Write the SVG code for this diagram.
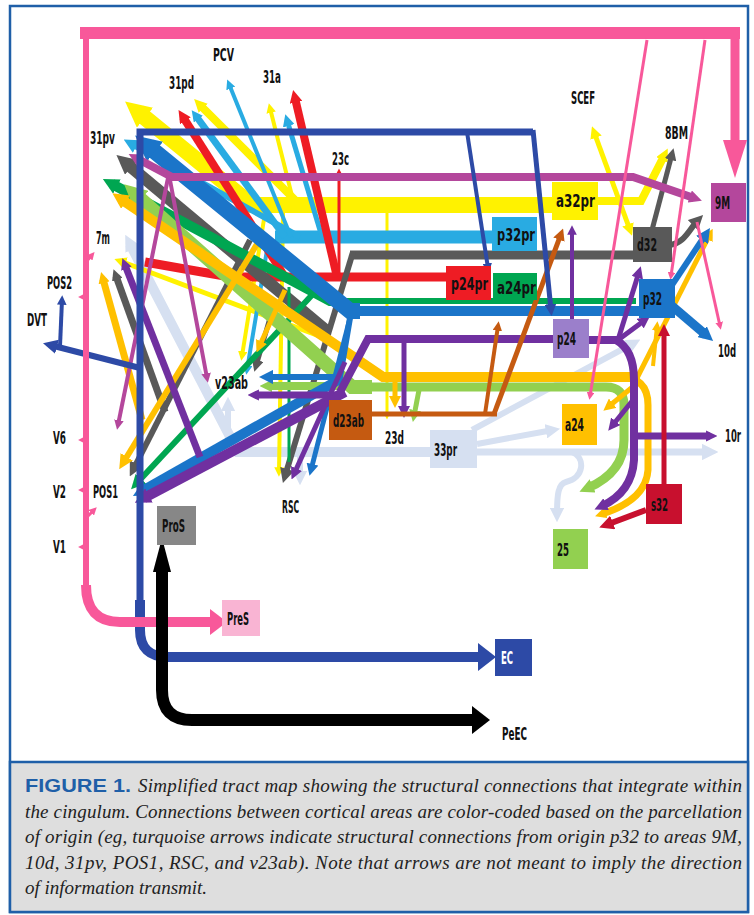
<svg xmlns="http://www.w3.org/2000/svg" width="754" height="915" viewBox="0 0 754 915">
<style>
.c{fill:none;stroke-linecap:butt;stroke-linejoin:miter}
.y{stroke:#fff200}.sb{stroke:#29abe2}.r{stroke:#ee1c24}.g{stroke:#595959}.gr{stroke:#00a651}.lg{stroke:#92d050}.o{stroke:#ffc000}.b{stroke:#1b75c9}.p{stroke:#7030a0}.m{stroke:#b4479c}.br{stroke:#c55a11}.n{stroke:#2d4aa6}.pk{stroke:#f8589a}.pb{stroke:#d6e0f1}.dr{stroke:#c8102e}.k{stroke:#000}
.lbl{font-family:'Liberation Sans Narrow','DejaVu Sans Condensed','Liberation Sans',sans-serif;font-weight:bold;font-size:17px;fill:#111}
.cap{font-family:'Liberation Serif',serif;font-style:italic;font-size:19px;fill:#222}
.fig{font-family:'Liberation Sans',sans-serif;font-weight:bold;font-style:normal;font-size:19px;fill:#1f5fa8}
</style>
<defs>
<marker id="tY" viewBox="0 0 10 10" refX="5" refY="5" markerWidth="2.4" markerHeight="2.4" orient="auto-start-reverse"><path d="M0,0L10,5L0,10z" fill="#fff200"/></marker>
<marker id="kY" viewBox="0 0 10 10" refX="3.5" refY="5" markerWidth="1.6" markerHeight="1.6" orient="auto-start-reverse"><path d="M0,0L10,5L0,10z" fill="#fff200"/></marker>
<marker id="tSB" viewBox="0 0 10 10" refX="5" refY="5" markerWidth="2.4" markerHeight="2.4" orient="auto"><path d="M0,0L10,5L0,10z" fill="#29abe2"/></marker>
<marker id="kSB" viewBox="0 0 10 10" refX="3.5" refY="5" markerWidth="1.6" markerHeight="1.6" orient="auto"><path d="M0,0L10,5L0,10z" fill="#29abe2"/></marker>
<marker id="tR" viewBox="0 0 10 10" refX="5" refY="5" markerWidth="2.4" markerHeight="2.4" orient="auto"><path d="M0,0L10,5L0,10z" fill="#ee1c24"/></marker>
<marker id="kR" viewBox="0 0 10 10" refX="3.5" refY="5" markerWidth="1.6" markerHeight="1.6" orient="auto"><path d="M0,0L10,5L0,10z" fill="#ee1c24"/></marker>
<marker id="tG" viewBox="0 0 10 10" refX="5" refY="5" markerWidth="2.4" markerHeight="2.4" orient="auto"><path d="M0,0L10,5L0,10z" fill="#595959"/></marker>
<marker id="kG" viewBox="0 0 10 10" refX="3.5" refY="5" markerWidth="1.6" markerHeight="1.6" orient="auto"><path d="M0,0L10,5L0,10z" fill="#595959"/></marker>
<marker id="tGR" viewBox="0 0 10 10" refX="5" refY="5" markerWidth="2.4" markerHeight="2.4" orient="auto"><path d="M0,0L10,5L0,10z" fill="#00a651"/></marker>
<marker id="kGR" viewBox="0 0 10 10" refX="3.5" refY="5" markerWidth="1.6" markerHeight="1.6" orient="auto"><path d="M0,0L10,5L0,10z" fill="#00a651"/></marker>
<marker id="tLG" viewBox="0 0 10 10" refX="5" refY="5" markerWidth="2.4" markerHeight="2.4" orient="auto"><path d="M0,0L10,5L0,10z" fill="#92d050"/></marker>
<marker id="kLG" viewBox="0 0 10 10" refX="3.5" refY="5" markerWidth="1.6" markerHeight="1.6" orient="auto"><path d="M0,0L10,5L0,10z" fill="#92d050"/></marker>
<marker id="tO" viewBox="0 0 10 10" refX="5" refY="5" markerWidth="2.4" markerHeight="2.4" orient="auto"><path d="M0,0L10,5L0,10z" fill="#ffc000"/></marker>
<marker id="kO" viewBox="0 0 10 10" refX="3.5" refY="5" markerWidth="1.6" markerHeight="1.6" orient="auto"><path d="M0,0L10,5L0,10z" fill="#ffc000"/></marker>
<marker id="tB" viewBox="0 0 10 10" refX="5" refY="5" markerWidth="2.4" markerHeight="2.4" orient="auto"><path d="M0,0L10,5L0,10z" fill="#1b75c9"/></marker>
<marker id="kB" viewBox="0 0 10 10" refX="3.5" refY="5" markerWidth="1.6" markerHeight="1.6" orient="auto"><path d="M0,0L10,5L0,10z" fill="#1b75c9"/></marker>
<marker id="tP" viewBox="0 0 10 10" refX="5" refY="5" markerWidth="2.4" markerHeight="2.4" orient="auto"><path d="M0,0L10,5L0,10z" fill="#7030a0"/></marker>
<marker id="kP" viewBox="0 0 10 10" refX="3.5" refY="5" markerWidth="1.6" markerHeight="1.6" orient="auto"><path d="M0,0L10,5L0,10z" fill="#7030a0"/></marker>
<marker id="tM" viewBox="0 0 10 10" refX="5" refY="5" markerWidth="2.4" markerHeight="2.4" orient="auto"><path d="M0,0L10,5L0,10z" fill="#b4479c"/></marker>
<marker id="kM" viewBox="0 0 10 10" refX="3.5" refY="5" markerWidth="1.6" markerHeight="1.6" orient="auto"><path d="M0,0L10,5L0,10z" fill="#b4479c"/></marker>
<marker id="tBR" viewBox="0 0 10 10" refX="5" refY="5" markerWidth="2.4" markerHeight="2.4" orient="auto"><path d="M0,0L10,5L0,10z" fill="#c55a11"/></marker>
<marker id="tN" viewBox="0 0 10 10" refX="5" refY="5" markerWidth="2.4" markerHeight="2.4" orient="auto"><path d="M0,0L10,5L0,10z" fill="#2d4aa6"/></marker>
<marker id="tPK" viewBox="0 0 10 10" refX="5" refY="5" markerWidth="2.6" markerHeight="2.6" orient="auto"><path d="M0,0L10,5L0,10z" fill="#f8589a"/></marker>
<marker id="tPB" viewBox="0 0 10 10" refX="5" refY="5" markerWidth="2.4" markerHeight="2.4" orient="auto"><path d="M0,0L10,5L0,10z" fill="#d6e0f1"/></marker>
<marker id="kPB" viewBox="0 0 10 10" refX="3.5" refY="5" markerWidth="1.6" markerHeight="1.6" orient="auto"><path d="M0,0L10,5L0,10z" fill="#d6e0f1"/></marker>
<marker id="tDR" viewBox="0 0 10 10" refX="5" refY="5" markerWidth="2.4" markerHeight="2.4" orient="auto"><path d="M0,0L10,5L0,10z" fill="#c8102e"/></marker>
</defs>
<rect x="10" y="6" width="738" height="906" fill="#fff" stroke="#1f5fa8" stroke-width="2.5"/>
<g id="connectors">
<!-- pale blue (33pr) -->
<path class="c pb" stroke-width="10" d="M430 452H238L130 244" marker-end="url(#kPB)"/>
<path class="c pb" stroke-width="7" d="M477 452H710" marker-end="url(#tPB)"/>
<path class="c pb" stroke-width="6" d="M477 444L553 430" marker-end="url(#tPB)"/>
<path class="c pb" stroke-width="6" d="M472 430L634 343" marker-end="url(#tPB)"/>
<path class="c pb" stroke-width="6" d="M572 452C586 458 584 478 566 482C558 484 557 495 557 515" marker-end="url(#tPB)"/>
<path class="c pb" stroke-width="6" d="M300 452V478" marker-end="url(#tPB)"/>
<path class="c pb" stroke-width="6" d="M228 452V404" marker-end="url(#tPB)"/>
<!-- yellow (a32pr) -->
<path class="c y" stroke-width="16" d="M552 205H252L138 112" marker-end="url(#kY)"/>
<path class="c y" stroke-width="8" d="M300 205L200 105" marker-end="url(#kY)"/>
<path class="c y" stroke-width="4" d="M293 200L270 108" marker-end="url(#tY)"/>
<path class="c y" stroke-width="3" d="M387 213V416" marker-end="url(#tY)"/>
<path class="c y" stroke-width="4" d="M283 213L279 472" marker-end="url(#tY)"/>
<path class="c y" stroke-width="4" d="M265 213L242 356" marker-end="url(#tY)"/>
<path class="c y" stroke-width="5" d="M330 340L120 261" marker-end="url(#tY)"/>
<path class="c y" stroke-width="8" d="M597 201H641L664 156" marker-end="url(#kY)"/>
<path class="c y" stroke-width="5" d="M594 132L630 230" marker-start="url(#tY)" marker-end="url(#tY)"/>
<!-- sky blue (p32pr) -->
<path class="c sb" stroke-width="13" d="M492 237H275"/>
<path class="c sb" stroke-width="6" d="M300 237L130 143" marker-end="url(#tSB)"/>
<path class="c sb" stroke-width="7" d="M285 237L196 116" marker-end="url(#kSB)"/>
<path class="c sb" stroke-width="4" d="M291 237L229 84" marker-end="url(#tSB)"/>
<path class="c sb" stroke-width="5" d="M322 237L287 120" marker-end="url(#tSB)"/>
<path class="c sb" stroke-width="4" d="M268 244L247 370" marker-end="url(#tSB)"/>
<!-- red (p24pr) -->
<path class="c r" stroke-width="9" d="M446 277H230L145 262"/>
<path class="c r" stroke-width="8" d="M285 277L183 117" marker-end="url(#kR)"/>
<path class="c r" stroke-width="8" d="M337 277L295 98" marker-end="url(#kR)"/>
<path class="c r" stroke-width="3" d="M339 277V172" marker-end="url(#tR)"/>
<!-- gray (d32) -->
<path class="c g" stroke-width="9" d="M635 255H350"/>
<path class="c g" stroke-width="6" d="M353 252L285 476" marker-end="url(#tG)"/>
<path class="c g" stroke-width="12" d="M328 332L126 163" marker-end="url(#kG)"/>
<path class="c g" stroke-width="6" d="M250 240L133 470" marker-end="url(#tG)"/>
<path class="c g" stroke-width="7" d="M165 412L116 276" marker-end="url(#kG)"/>
<path class="c g" stroke-width="5" d="M270 318L256 366" marker-end="url(#tG)"/>
<path class="c g" stroke-width="5" d="M652 230L672 154" marker-end="url(#tG)"/>
<path class="c g" stroke-width="6" d="M668 245C684 245 690 228 698 220" marker-end="url(#tG)"/>
<!-- green (a24pr) -->
<path class="c gr" stroke-width="6" d="M636 301H330"/>
<path class="c gr" stroke-width="10" d="M338 301H330L112 184" marker-end="url(#kGR)"/>
<path class="c gr" stroke-width="6" d="M312 295L136 484" marker-end="url(#tGR)"/>
<path class="c gr" stroke-width="3" d="M289 287V462"/>
<!-- light green (25) -->
<path class="c lg" stroke-width="9" d="M352 387H606Q624 387 624 405V440Q624 472 588 488" marker-end="url(#kLG)"/>
<path class="c lg" stroke-width="14" d="M372 387H352L135 194" marker-end="url(#kLG)"/>
<path class="c lg" stroke-width="8" d="M345 386H268" marker-end="url(#kLG)"/>
<path class="c lg" stroke-width="5" d="M419 390L414 416" marker-end="url(#tLG)"/>
<!-- orange (a24) -->
<path class="c o" stroke-width="10" d="M640 377H383L121 199" marker-end="url(#kO)"/>
<path class="c o" stroke-width="7" d="M620 377Q648 377 648 405V470Q646 500 602 514" marker-end="url(#kO)"/>
<path class="c o" stroke-width="5" d="M640 381L608 407" marker-end="url(#tO)"/>
<path class="c o" stroke-width="4" d="M653 366L657 326" marker-end="url(#tO)"/>
<path class="c o" stroke-width="5" d="M637 378L710 234" marker-end="url(#tO)"/>
<path class="c o" stroke-width="5" d="M395 382V402" marker-end="url(#tO)"/>
<path class="c o" stroke-width="6" d="M262 236L123 463" marker-end="url(#tO)"/>
<path class="c o" stroke-width="7" d="M142 420L103 279" marker-end="url(#kO)"/>
<path class="c o" stroke-width="5" d="M285 290L259 347" marker-end="url(#tO)"/>
<!-- blue (p32) -->
<path class="c b" stroke-width="10" d="M640 311H350"/>
<path class="c b" stroke-width="16" d="M360 311H350L148 146" marker-end="url(#kB)"/>
<path class="c b" stroke-width="5" d="M350 318L311 470" marker-end="url(#tB)"/>
<path class="c b" stroke-width="6" d="M350 318L340 377H266" marker-end="url(#tB)"/>
<path class="c b" stroke-width="10" d="M342 378L142 491" marker-end="url(#kB)"/>
<path class="c b" stroke-width="9" d="M672 306L706 335" marker-end="url(#kB)"/>
<path class="c b" stroke-width="6" d="M672 285L706 234" marker-end="url(#tB)"/>
<!-- purple (p24) -->
<path class="c p" stroke-width="8" d="M553 339H368L340 392"/>
<path class="c p" stroke-width="10" d="M345 392L144 498" marker-end="url(#kP)"/>
<path class="c p" stroke-width="8" d="M589 340H620"/>
<path class="c p" stroke-width="5" d="M618 340L639 272" marker-end="url(#tP)"/>
<path class="c p" stroke-width="5" d="M618 340L645 320" marker-end="url(#tP)"/>
<path class="c p" stroke-width="4" d="M572 319V230" marker-end="url(#tP)"/>
<path class="c p" stroke-width="5" d="M404 339V412" marker-end="url(#tP)"/>
<path class="c p" stroke-width="8" d="M616 340Q634 350 634 380V460Q632 492 602 506" marker-end="url(#kP)"/>
<path class="c p" stroke-width="5" d="M633 400L612 426" marker-end="url(#tP)"/>
<path class="c p" stroke-width="7" d="M634 436H710" marker-end="url(#kP)"/>
<path class="c p" stroke-width="7" d="M338 395H255" marker-end="url(#kP)"/>
<path class="c p" stroke-width="5" d="M345 362L294 474" marker-end="url(#tP)"/>
<path class="c p" stroke-width="7" d="M200 457L125 265" marker-end="url(#kP)"/>
<!-- brown (d23ab) -->
<path class="c br" stroke-width="5" d="M372 414H497"/>
<path class="c br" stroke-width="4" d="M485 414L498 326" marker-end="url(#tBR)"/>
<path class="c br" stroke-width="5" d="M494 414L561 234" marker-end="url(#tBR)"/>
<!-- dark red (s32) -->
<path class="c dr" stroke-width="5" d="M664 484V330" marker-end="url(#tDR)"/>
<path class="c dr" stroke-width="6" d="M646 510L606 525" marker-end="url(#tDR)"/>
<!-- magenta (9M) -->
<path class="c m" stroke-width="8" d="M168 177H633L694 198" marker-end="url(#kM)"/>
<path class="c m" stroke-width="8" d="M172 177L136 158" marker-end="url(#kM)"/>
<path class="c m" stroke-width="4" d="M168 178L118 425" marker-end="url(#tM)"/>
<path class="c m" stroke-width="4" d="M170 180L207 378" marker-end="url(#tM)"/>
<!-- navy (EC) -->
<path class="c n" stroke-width="7" d="M533 132H140V610"/>
<path class="c n" stroke-width="10" d="M140 600V630Q140 657 168 657H480"/>
<polygon points="478,643 478,671 496,657" fill="#2d4aa6"/>
<path class="c n" stroke-width="5" d="M533 130L551 310" marker-end="url(#tN)"/>
<path class="c n" stroke-width="4" d="M467 132L488 268" marker-end="url(#tN)"/>
<path class="c n" stroke-width="6" d="M140 368L50 345" marker-end="url(#tN)"/>
<path class="c n" stroke-width="4" d="M60 346L62 300" marker-end="url(#tN)"/>
<!-- pink (PreS) -->
<path class="c pk" stroke-width="12" d="M80 33H740"/>
<path class="c pk" stroke-width="9" d="M735 33V142"/>
<polygon points="723,140 747,140 735,178" fill="#f8589a"/>
<path class="c pk" stroke-width="6" d="M86 28V590"/>
<path class="c pk" stroke-width="10" d="M86 585Q86 622 120 622H212"/>
<polygon points="210,609 210,635 227,622" fill="#f8589a"/>
<path class="c pk" stroke-width="3" d="M647 40L590 396" marker-end="url(#tPK)"/>
<path class="c pk" stroke-width="3" d="M705 40L671 276" marker-end="url(#tPK)"/>
<path class="c pk" stroke-width="3" d="M697 222L720 326" marker-end="url(#tPK)"/>
<path class="c pk" stroke-width="3" d="M86 297H82" marker-end="url(#tPK)"/>
<path class="c pk" stroke-width="3" d="M86 440H82" marker-end="url(#tPK)"/>
<path class="c pk" stroke-width="3" d="M86 490H82" marker-end="url(#tPK)"/>
<path class="c pk" stroke-width="3" d="M86 547H82" marker-end="url(#tPK)"/>
<path class="c pk" stroke-width="3" d="M86 262L92 255" marker-end="url(#tPK)"/>
<path class="c pk" stroke-width="3" d="M86 518L94 510" marker-end="url(#tPK)"/>
<!-- black (ProS) -->
<path class="c k" stroke-width="12" d="M162 568V690Q162 720 192 720H472"/>
<polygon points="153,572 171,572 162,538" fill="#000"/>
<polygon points="472,706 472,734 490,720" fill="#000"/>
</g>
<g id="a32pr"><rect x="552" y="182" width="46" height="38" fill="#fff200"/><text class="lbl" x="556" y="207" textLength="39" lengthAdjust="spacingAndGlyphs">a32pr</text></g>
<g id="n9M"><rect x="711" y="183" width="35" height="39" fill="#b4479c"/><text class="lbl" x="715" y="209" textLength="15" lengthAdjust="spacingAndGlyphs">9M</text></g>
<g id="d32"><rect x="633" y="227" width="39" height="35" fill="#595959"/><text class="lbl" x="637" y="251" textLength="20" lengthAdjust="spacingAndGlyphs">d32</text></g>
<g id="p32pr"><rect x="492" y="217" width="45" height="34" fill="#29abe2"/><text class="lbl" x="497" y="241" textLength="38" lengthAdjust="spacingAndGlyphs">p32pr</text></g>
<g id="p24pr"><rect x="446" y="266" width="45" height="34" fill="#ee1c24"/><text class="lbl" x="451" y="290" textLength="37" lengthAdjust="spacingAndGlyphs">p24pr</text></g>
<g id="a24pr"><rect x="493" y="273" width="44" height="27" fill="#00a651"/><text class="lbl" x="497" y="294" textLength="39" lengthAdjust="spacingAndGlyphs">a24pr</text></g>
<g id="p32"><rect x="639" y="279" width="36" height="39" fill="#1b75c9"/><text class="lbl" x="643" y="305" textLength="19" lengthAdjust="spacingAndGlyphs">p32</text></g>
<g id="p24"><rect x="553" y="319" width="36" height="39" fill="#9b7fcb"/><text class="lbl" x="557" y="345" textLength="19" lengthAdjust="spacingAndGlyphs">p24</text></g>
<g id="a24"><rect x="562" y="404" width="35" height="41" fill="#ffc000"/><text class="lbl" x="565" y="431" textLength="19" lengthAdjust="spacingAndGlyphs">a24</text></g>
<g id="d23ab"><rect x="329" y="400" width="43" height="40" fill="#c55a11"/><text class="lbl" x="333" y="427" textLength="31" lengthAdjust="spacingAndGlyphs">d23ab</text></g>
<g id="n33pr"><rect x="430" y="430" width="47" height="38" fill="#d6e0f1"/><text class="lbl" x="434" y="456" textLength="23" lengthAdjust="spacingAndGlyphs">33pr</text></g>
<g id="s32"><rect x="646" y="484" width="36" height="40" fill="#c8102e"/><text class="lbl" x="651" y="511" textLength="17" lengthAdjust="spacingAndGlyphs">s32</text></g>
<g id="n25"><rect x="553" y="529" width="35" height="40" fill="#92d050"/><text class="lbl" x="557" y="556" textLength="12" lengthAdjust="spacingAndGlyphs">25</text></g>
<g id="ProS"><rect x="157" y="506" width="39" height="39" fill="#878787"/><text class="lbl" x="162" y="532" textLength="23" lengthAdjust="spacingAndGlyphs">ProS</text></g>
<g id="PreS"><rect x="222" y="600" width="38" height="36" fill="#f9b4d3"/><text class="lbl" x="227" y="625" textLength="22" lengthAdjust="spacingAndGlyphs">PreS</text></g>
<g id="EC"><rect x="495" y="639" width="37" height="37" fill="#2d4aa6"/><text class="lbl" x="501" y="664" textLength="12" lengthAdjust="spacingAndGlyphs" style="fill:#fff">EC</text></g>
<g id="n31pd"><text class="lbl" x="169" y="89" textLength="25" lengthAdjust="spacingAndGlyphs">31pd</text></g>
<g id="PCV"><text class="lbl" x="213" y="61" textLength="21" lengthAdjust="spacingAndGlyphs">PCV</text></g>
<g id="n31a"><text class="lbl" x="263" y="83" textLength="18" lengthAdjust="spacingAndGlyphs">31a</text></g>
<g id="n23c"><text class="lbl" x="332" y="165" textLength="17" lengthAdjust="spacingAndGlyphs">23c</text></g>
<g id="SCEF"><text class="lbl" x="571" y="104" textLength="24" lengthAdjust="spacingAndGlyphs">SCEF</text></g>
<g id="n8BM"><text class="lbl" x="665" y="139" textLength="23" lengthAdjust="spacingAndGlyphs">8BM</text></g>
<g id="n31pv"><text class="lbl" x="90" y="144" textLength="25" lengthAdjust="spacingAndGlyphs">31pv</text></g>
<g id="n7m"><text class="lbl" x="96" y="244" textLength="14" lengthAdjust="spacingAndGlyphs">7m</text></g>
<g id="POS2"><text class="lbl" x="47" y="289" textLength="25" lengthAdjust="spacingAndGlyphs">POS2</text></g>
<g id="DVT"><text class="lbl" x="27" y="326" textLength="20" lengthAdjust="spacingAndGlyphs">DVT</text></g>
<g id="V6"><text class="lbl" x="53" y="444" textLength="13" lengthAdjust="spacingAndGlyphs">V6</text></g>
<g id="V2"><text class="lbl" x="53" y="498" textLength="13" lengthAdjust="spacingAndGlyphs">V2</text></g>
<g id="V1"><text class="lbl" x="53" y="553" textLength="13" lengthAdjust="spacingAndGlyphs">V1</text></g>
<g id="POS1"><text class="lbl" x="93" y="498" textLength="25" lengthAdjust="spacingAndGlyphs">POS1</text></g>
<g id="v23ab"><text class="lbl" x="215" y="389" textLength="33" lengthAdjust="spacingAndGlyphs">v23ab</text></g>
<g id="RSC"><text class="lbl" x="282" y="513" textLength="17" lengthAdjust="spacingAndGlyphs">RSC</text></g>
<g id="n23d"><text class="lbl" x="385" y="444" textLength="19" lengthAdjust="spacingAndGlyphs">23d</text></g>
<g id="n10d"><text class="lbl" x="718" y="357" textLength="18" lengthAdjust="spacingAndGlyphs">10d</text></g>
<g id="n10r"><text class="lbl" x="725" y="442" textLength="16" lengthAdjust="spacingAndGlyphs">10r</text></g>
<g id="PeEC"><text class="lbl" x="502" y="740" textLength="25" lengthAdjust="spacingAndGlyphs">PeEC</text></g>
<g id="caption">
<rect x="10" y="762" width="738" height="150" fill="#dedede" stroke="#1f5fa8" stroke-width="2.5"/>
<text class="fig" x="25" y="792" textLength="106" lengthAdjust="spacingAndGlyphs">FIGURE 1.</text>
<text class="cap" x="138" y="792" textLength="604" lengthAdjust="spacing">Simplified tract map showing the structural connections that integrate within</text>
<text class="cap" x="25" y="818" textLength="717" lengthAdjust="spacing">the cingulum. Connections between cortical areas are color-coded based on the parcellation</text>
<text class="cap" x="25" y="843" textLength="717" lengthAdjust="spacing">of origin (eg, turquoise arrows indicate structural connections from origin p32 to areas 9M,</text>
<text class="cap" x="25" y="869" textLength="717" lengthAdjust="spacing">10d, 31pv, POS1, RSC, and v23ab). Note that arrows are not meant to imply the direction</text>
<text class="cap" x="25" y="894">of information transmit.</text>
</g>
</svg>
